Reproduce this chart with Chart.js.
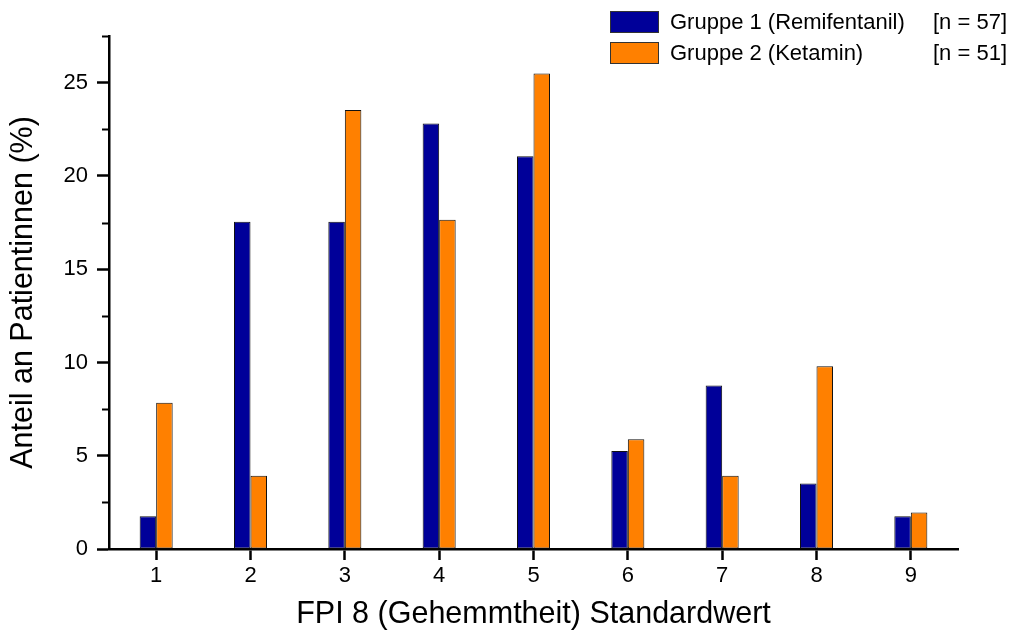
<!DOCTYPE html>
<html lang="de">
<head>
<meta charset="utf-8">
<title>FPI 8 (Gehemmtheit) Standardwert</title>
<script src="https://cdn.jsdelivr.net/npm/chart.js@4.4.1/dist/chart.umd.min.js"></script>
<style>
  html, body { margin: 0; padding: 0; background: #fff; }
  #wrap { width: 1013px; height: 630px; }
</style>
</head>
<body>
<div id="wrap"><canvas id="chart" width="1013" height="630"></canvas></div>
<script>
'use strict';

/* ── Daten ── */
const categories = ['1', '2', '3', '4', '5', '6', '7', '8', '9'];
const remifentanil = [1.75, 17.54, 17.54, 22.81, 21.05, 5.26, 8.77, 3.51, 1.75];
const ketamin = [7.84, 3.92, 23.53, 17.65, 25.49, 5.88, 3.92, 9.80, 1.96];
const groupLabels = ['Gruppe 1 (Remifentanil)', 'Gruppe 2 (Ketamin)'];
const groupN = ['[n = 57]', '[n = 51]'];

const FONT = '"Liberation Sans", Arial, Helvetica, sans-serif';
const BLUE = '#000099';
const ORANGE = '#ff8000';

/* kurze Nebenstriche (alle 2,5) an der y-Achse */
const minorTicks = {
  id: 'minorTicks',
  afterDraw(chart) {
    const y = chart.scales.y;
    const ctx = chart.ctx;
    ctx.save();
    ctx.strokeStyle = '#000';
    ctx.lineWidth = 2;
    y.ticks.forEach(t => {
      if (t.value % 5 === 0) return;
      const py = Math.round(y.getPixelForValue(t.value)) + 0.5;
      ctx.beginPath();
      ctx.moveTo(y.right - 7, py);
      ctx.lineTo(y.right, py);
      ctx.stroke();
    });
    ctx.restore();
  }
};

/* Legende oben rechts, mit rechtsbündiger n-Spalte */
const boxLegend = {
  id: 'boxLegend',
  afterDraw(chart) {
    const ctx = chart.ctx;
    ctx.save();
    ctx.font = '22px ' + FONT;
    ctx.textBaseline = 'middle';
    chart.data.datasets.forEach((ds, i) => {
      const top = 11 + i * 31;
      ctx.fillStyle = ds.backgroundColor;
      ctx.fillRect(610, top, 49, 22);
      ctx.strokeStyle = '#333';
      ctx.lineWidth = 1;
      ctx.strokeRect(610.5, top + 0.5, 48, 21);
      ctx.fillStyle = '#000';
      ctx.textAlign = 'left';
      ctx.fillText(ds.label, 670, top + 12);
      ctx.textAlign = 'right';
      ctx.fillText(groupN[i], 1007, top + 12);
    });
    ctx.restore();
  }
};

new Chart(document.getElementById('chart'), {
  type: 'bar',
  data: {
    labels: categories,
    datasets: [
      {
        label: groupLabels[0],
        data: remifentanil,
        backgroundColor: BLUE,
        borderColor: '#111',
        borderWidth: 1,
        borderSkipped: false
      },
      {
        label: groupLabels[1],
        data: ketamin,
        backgroundColor: ORANGE,
        borderColor: '#111',
        borderWidth: 1,
        borderSkipped: false
      }
    ]
  },
  options: {
    responsive: false,
    animation: false,
    categoryPercentage: 0.35,
    barPercentage: 1,
    layout: { padding: { left: 0, top: 36, right: 55, bottom: 0 } },
    plugins: {
      legend: { display: false },
      tooltip: { enabled: false }
    },
    scales: {
      x: {
        offset: true,
        afterFit(scale) { scale.height = 81; },
        grid: {
          offset: false,
          drawOnChartArea: false,
          tickLength: 11,
          tickWidth: 2.5,
          tickColor: '#000'
        },
        border: { display: true, color: '#000', width: 2.5 },
        ticks: {
          color: '#000',
          padding: 3,
          font: { family: FONT, size: 22 }
        },
        title: {
          display: true,
          text: 'FPI 8 (Gehemmtheit) Standardwert',
          color: '#000',
          font: { family: FONT, size: 30.5, lineHeight: 1 },
          padding: { top: 0, bottom: 0 }
        }
      },
      y: {
        min: 0,
        max: 27.5,
        afterFit(scale) { scale.width = 109; },
        grid: {
          drawOnChartArea: false,
          tickLength: 12,
          tickWidth: 2.5,
          tickColor: ctx => (ctx.tick && ctx.tick.value % 5 === 0) ? '#000' : 'rgba(0,0,0,0)'
        },
        border: { display: true, color: '#000', width: 2.5 },
        ticks: {
          stepSize: 2.5,
          autoSkip: false,
          color: '#000',
          padding: 9,
          font: { family: FONT, size: 22 },
          callback: v => (v % 5 === 0 ? String(v) : '')
        },
        title: {
          display: true,
          text: 'Anteil an Patientinnen (%)',
          color: '#000',
          font: { family: FONT, size: 30.5, lineHeight: 1 },
          padding: { top: 8, bottom: 0 }
        }
      }
    }
  },
  plugins: [minorTicks, boxLegend]
});
</script>
</body>
</html>
